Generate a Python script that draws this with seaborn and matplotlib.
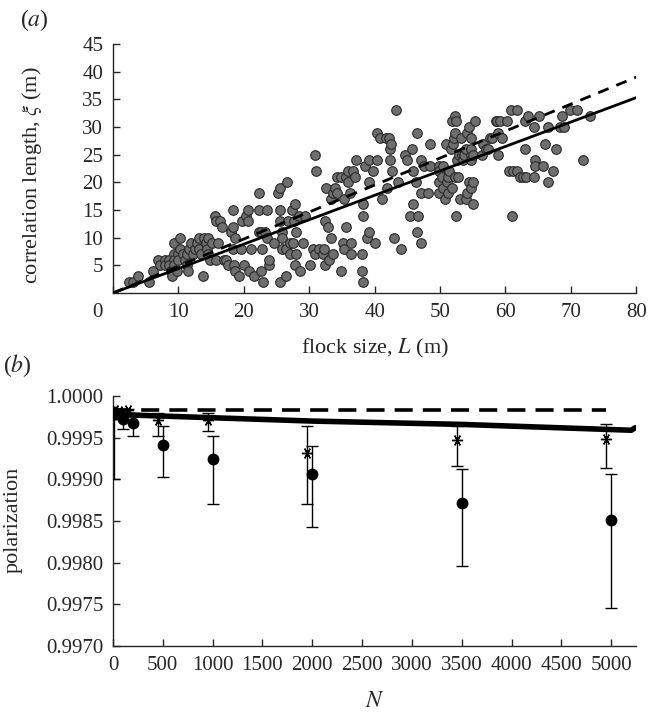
import matplotlib
matplotlib.use("Agg")
import matplotlib.pyplot as plt
from matplotlib.transforms import ScaledTranslation
import seaborn as sns
import pandas as pd

# ------------------------------
# data
# ------------------------------
# (a) flock size L (m) vs correlation length xi (m)
flock_size = [
    2.5, 3.1, 3.8, 5.5, 6.1, 6.9, 7.2, 7.9, 7.9, 8.5, 8.5, 8.8, 9.1, 9.3, 9.3, 9.4, 9.4, 9.8,
    10.0, 10.0, 10.3, 10.3, 10.7, 11.0, 11.3, 11.3, 11.5, 11.7, 12.0, 12.3, 12.6, 12.9, 13.1,
    13.2, 13.5, 13.7, 13.9, 14.2, 14.4, 14.5, 14.5, 14.8, 15.1, 15.7, 15.6, 15.7, 16.0, 16.3,
    16.7, 17.0, 17.3, 17.6, 18.0, 18.3, 18.4, 18.6, 18.4, 18.5, 18.6, 19.2, 19.5, 19.8, 20.0,
    20.3, 20.7, 20.7, 20.8, 21.1, 21.5, 22.4, 22.4, 22.4, 22.6, 22.7, 22.8, 23.0, 23.3, 23.5,
    23.6, 23.8, 23.9, 24.6, 25.3, 25.6, 25.6, 25.5, 25.6, 25.8, 25.8, 25.9, 26.5, 26.5, 26.6,
    26.8, 27.0, 27.0, 27.4, 27.5, 27.8, 27.7, 27.8, 28.0, 28.0, 28.5, 28.6, 29.1, 29.3, 30.1,
    30.6, 30.9, 30.9, 31.1, 31.5, 32.1, 32.3, 32.4, 32.4, 32.6, 32.9, 33.0, 33.4, 33.4, 33.7,
    33.9, 33.7, 34.3, 34.3, 34.8, 34.9, 35.2, 35.3, 35.3, 35.6, 35.6, 35.9, 35.9, 36.2, 36.4,
    36.4, 36.7, 37.0, 37.1, 38.0, 38.1, 38.2, 38.3, 38.3, 38.6, 38.9, 39.1, 39.1, 39.1, 39.7,
    40.0, 40.3, 40.4, 40.8, 41.1, 41.7, 41.9, 42.2, 42.3, 42.5, 42.4, 42.7, 42.9, 43.3, 43.6,
    44.0, 44.6, 44.9, 45.4, 45.7, 45.9, 45.9, 46.3, 46.5, 46.5, 46.7, 47.1, 47.1, 47.1, 47.6,
    48.2, 48.5, 48.5, 49.8, 49.9, 49.9, 49.9, 50.3, 50.4, 50.5, 50.7, 50.9, 51.0, 51.2, 51.2,
    51.3, 51.7, 51.8, 51.8, 52.0, 52.2, 52.3, 52.3, 52.4, 52.4, 52.3, 52.6, 52.8, 52.9, 53.0,
    53.2, 53.4, 53.5, 53.7, 53.9, 54.0, 54.2, 54.2, 54.5, 54.5, 54.7, 54.8, 54.8, 54.8, 54.8,
    55.0, 55.0, 55.1, 55.4, 56.4, 56.6, 57.0, 57.4, 57.6, 58.0, 58.5, 58.7, 58.9, 58.9, 59.2,
    59.5, 60.3, 60.5, 60.8, 61.0, 61.2, 61.7, 61.7, 62.2, 62.7, 63.0, 63.0, 63.1, 63.5, 64.4,
    64.4, 64.6, 64.6, 65.2, 65.8, 66.1, 66.5, 66.5, 67.3, 67.7, 68.3, 68.6, 68.9, 69.8, 71.0,
    71.8, 72.9,
]
corr_length = [
    2, 2, 3, 2, 4, 6, 5, 6, 5, 6, 5, 4, 3, 9, 7, 6, 5, 4,
    7, 6, 10, 8, 7, 6, 5, 7, 4, 8, 9, 7, 8, 9, 10,
    8, 7, 3, 10, 9, 8, 10, 7, 6, 9, 6, 14, 13, 9, 13,
    12, 6, 6, 5, 11, 15, 12, 10, 8, 5, 4, 3, 8, 13, 5,
    14, 15, 13, 4, 8, 3, 18, 15, 11, 4, 11, 8, 2, 11, 15,
    10, 5, 6, 9, 18, 19, 15, 13, 2, 11, 10, 8, 8, 3, 20,
    13, 7, 9, 15, 9, 16, 13, 5, 11, 7, 14, 4, 9, 14, 5,
    8, 7, 25, 22, 8, 7, 8, 13, 5, 19, 12, 6, 10, 17, 18,
    19, 7, 21, 18, 4, 21, 9, 17, 8, 12, 21, 22, 20, 18, 7,
    9, 22, 21, 24, 7, 4, 2, 16, 14, 23, 10, 11, 24, 20, 22,
    9, 29, 24, 28, 17, 28, 19, 28, 26, 27, 24, 22, 10, 33, 20,
    8, 25, 24, 14, 26, 16, 22, 20, 29, 11, 14, 24, 9, 18, 23,
    18, 23, 27, 23, 22, 20, 18, 21, 19, 23, 17, 27, 20, 18, 21,
    22, 26, 31, 19, 27, 28, 29, 32, 31, 14, 21, 24, 21, 25, 17,
    28, 25, 24, 25, 26, 17, 29, 18, 30, 20, 25, 24, 28, 26, 19,
    20, 16, 25, 31, 25, 27, 26, 26, 28, 28, 31, 31, 25, 29, 31,
    28, 31, 22, 33, 14, 22, 33, 22, 21, 21, 26, 31, 21, 32, 21,
    30, 24, 23, 32, 23, 27, 20, 30, 22, 26, 30, 32, 30, 33, 33,
    24, 32,
]
fit_L = [0, 80]
fit_solid = [0, 35.3]
fit_dashed = [0, 39.0]

# (b) polarization vs N
circ_N = [10, 30, 100, 200, 500, 1000, 2000, 3500, 5000]
circ_pol = [0.99981, 0.99979, 0.99973, 0.99968, 0.99941, 0.99924, 0.99907, 0.99872, 0.99851]
circ_lo = [0.99900, 0.99972, 0.99960, 0.99952, 0.99903, 0.99870, 0.99843, 0.99796, 0.99746]
circ_hi = [0.99984, 0.99983, 0.99978, 0.99980, 0.99964, 0.99952, 0.99940, 0.99913, 0.99907]

star_N = [20, 60, 150, 450, 950, 1950, 3450, 4950]
star_pol = [0.99983, 0.99982, 0.99983, 0.99971, 0.99971, 0.99932, 0.99947, 0.99948]
star_lo = [0.99980, 0.99978, 0.99980, 0.99952, 0.99958, 0.99871, 0.99916, 0.99914]
star_hi = [0.99985, 0.99985, 0.99985, 0.99980, 0.99980, 0.99964, 0.99964, 0.99967]

line_N = [0, 1000, 2000, 3500, 5200, 5240]
line_pol = [0.99978, 0.99974, 0.99970, 0.99966, 0.99959, 0.99962]
dash_N = [0, 4950]
dash_pol = [0.99983, 0.99983]

df_a = pd.DataFrame({"L": flock_size, "xi": corr_length})

# ------------------------------
# style
# ------------------------------
sns.set_style("ticks")
plt.rcParams["font.family"] = ["Liberation Serif", "DejaVu Serif"]
plt.rcParams["mathtext.fontset"] = "stix"
TICK_FS = 15
LAB_FS = 16

fig = plt.figure(figsize=(6.5, 7.16), dpi=100)
ax1 = fig.add_axes([0.1738, 0.5908, 0.805, 0.3478])
ax2 = fig.add_axes([0.1738, 0.0978, 0.805, 0.349])

# ------------------------------
# (a) scatter
# ------------------------------
sns.scatterplot(data=df_a, x="L", y="xi", ax=ax1, s=48, color="#6e6e6e",
                edgecolor="#2a2a2a", linewidth=0.8, zorder=2)
sns.lineplot(x=fit_L, y=fit_solid, ax=ax1, color="black", lw=2.0, zorder=3)
ax1.plot(fit_L, fit_dashed, color="black", lw=2.0, dashes=(4, 3), zorder=3)

ax1.set_xlim(0, 80)
ax1.set_ylim(0, 45)
ax1.set_xticks(range(0, 81, 10))
ax1.set_yticks(range(5, 46, 5))
ax1.set_xlabel(r"flock size, $L$ (m)", fontsize=LAB_FS)
ax1.set_ylabel(r"correlation length, $\xi$ (m)", fontsize=LAB_FS)
ax1.xaxis.set_label_coords(0.5, -0.175)
ax1.yaxis.set_label_coords(-0.132, 0.474)

# ------------------------------
# (b) polarization
# ------------------------------
ax2.plot(dash_N, dash_pol, color="black", lw=2.6, dashes=(5, 2.8), zorder=3)
sns.lineplot(x=line_N, y=line_pol, ax=ax2, color="black", lw=4.0, zorder=4)

c_err = [[p - l for p, l in zip(circ_pol, circ_lo)], [h - p for p, h in zip(circ_pol, circ_hi)]]
s_err = [[p - l for p, l in zip(star_pol, star_lo)], [h - p for p, h in zip(star_pol, star_hi)]]
ax2.errorbar(circ_N, circ_pol, yerr=c_err, fmt="o", color="black", ms=7.5,
             elinewidth=1.0, capsize=4, capthick=1.0, zorder=5)
ax2.errorbar(star_N, star_pol, yerr=s_err, fmt="none", ecolor="black",
             elinewidth=1.0, capsize=4, capthick=1.0, zorder=5)
ax2.plot(star_N, star_pol, ls="none", marker=(6, 2, 90), ms=8, mew=1.0, color="black", zorder=6)

ax2.set_xlim(0, 5250)
ax2.set_ylim(0.9970, 1.0000)
ax2.set_xticks(range(0, 5001, 500))
ax2.set_yticks([0.9970, 0.9975, 0.9980, 0.9985, 0.9990, 0.9995, 1.0000])
ax2.yaxis.set_major_formatter(matplotlib.ticker.FormatStrFormatter("%.4f"))
ax2.set_xlabel(r"$N$", fontsize=LAB_FS + 1)
ax2.set_ylabel("polarization", fontsize=LAB_FS)
ax2.xaxis.set_label_coords(0.5, -0.18)
ax2.yaxis.set_label_coords(-0.172, 0.504)

for ax in (ax1, ax2):
    sns.despine(ax=ax)
    ax.tick_params(direction="in", length=5, width=1, labelsize=TICK_FS, pad=7)
    for sp in ("left", "bottom"):
        ax.spines[sp].set_linewidth(1.0)

# the "0" under panel (a) sits left of the origin in the original
zero_lbl = ax1.xaxis.get_major_ticks()[0].label1
zero_lbl.set_transform(zero_lbl.get_transform() + ScaledTranslation(-16 / 100, 0, fig.dpi_scale_trans))

fig.text(0.03, 0.972, r"($a$)", fontsize=LAB_FS + 1, va="center")
fig.text(0.004, 0.489, r"($b$)", fontsize=LAB_FS + 1, va="center")

plt.savefig("out.png", dpi=100)
